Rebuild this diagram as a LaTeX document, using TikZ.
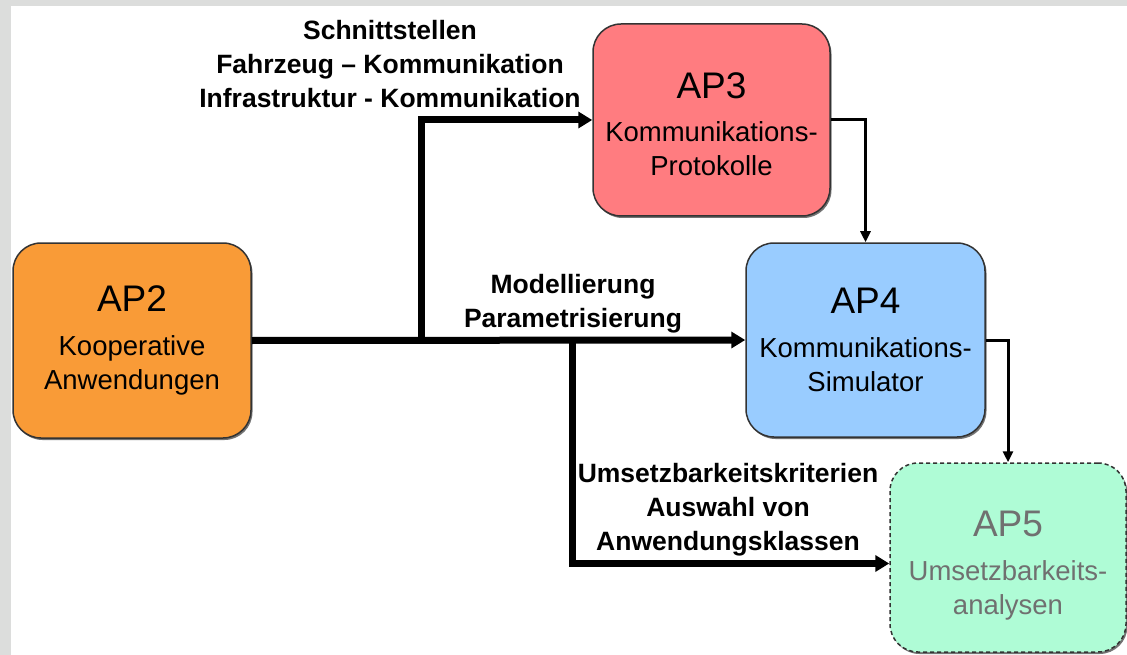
\documentclass[tikz,border=0pt]{standalone}
\usepackage{fontspec}
\setmainfont{Liberation Sans}
\usetikzlibrary{arrows.meta,shadows}
\definecolor{framegray}{HTML}{DCDDDC}
\definecolor{apa}{HTML}{F99B37}
\definecolor{apb}{HTML}{FF7C80}
\definecolor{apc}{HTML}{99CCFF}
\definecolor{apd}{HTML}{AFFCD6}
\definecolor{edgegray}{HTML}{333333}
\definecolor{fadegray}{HTML}{707070}
\newcommand{\aptitle}[1]{{\fontsize{37}{44}\selectfont #1}}
\begin{document}
\begin{tikzpicture}[x=1pt,y=-1pt,
  apbox/.style={draw=edgegray,line width=1.5pt,rounded corners=28pt,align=center,
    inner sep=0pt,font=\fontsize{27.5}{34}\selectfont,
    drop shadow={shadow xshift=1.5pt,shadow yshift=-2pt,fill=black,opacity=0.55}},
  dashbox/.style={apbox,dash pattern=on 4pt off 3pt,text=fadegray},
  bigarrow/.style={line width=7pt,-{Triangle[length=14pt,width=16pt]}},
  thinarrow/.style={line width=3pt,-{Triangle[length=11pt,width=10pt]}},
  lbl/.style={font=\bfseries\fontsize{26.5}{34}\selectfont,align=center,inner sep=0pt}]
\useasboundingbox (0,0) rectangle (1127,655);
\fill[white] (0,0) rectangle (1127,655);
\fill[framegray] (0,0) rectangle (1127,6);
\fill[framegray] (0,0) rectangle (11,655);

\node[apbox,fill=apa,minimum width=238pt,minimum height=195pt] (AP2) at (132,340.5)
  {\aptitle{AP2}\\[10pt]Kooperative\\Anwendungen};
\node[apbox,fill=apb,minimum width=237pt,minimum height=192pt] (AP3) at (711.5,120)
  {\rule{0pt}{34pt}\aptitle{AP3}\\[9pt]Kommunikations-\\Protokolle};
\node[apbox,fill=apc,minimum width=239pt,minimum height=194pt] (AP4) at (865.5,340)
  {\aptitle{AP4}\\[10pt]Kommunikations-\\Simulator};
\node[dashbox,fill=apd,minimum width=236pt,minimum height=189pt] (AP5) at (1008,557.5)
  {\rule{0pt}{42pt}\aptitle{AP5}\\[10pt]Umsetzbarkeits-\\analysen};

\coordinate (j1) at (421,340);
\coordinate (j2) at (572,340);
\draw[bigarrow] (AP2.east) -- (AP4.west);
\draw[bigarrow] (j1) |- (AP3.west);
\draw[bigarrow] (j2) |- ([yshift=-6pt]AP5.west);
\draw[thinarrow] (AP3.east) -| (AP4.north);
\draw[thinarrow] (AP4.east) -| (AP5.north);

\node[lbl] (lab1) at (390,64.5) {Schnittstellen\\Fahrzeug – Kommunikation\\Infrastruktur - Kommunikation};
\node[lbl] (lab2) at (573,304) {Modellierung\\Parametrisierung};
\node[lbl] (lab3) at (728,510) {Umsetzbarkeitskriterien\\Auswahl von\\Anwendungsklassen};
\end{tikzpicture}
\end{document}
